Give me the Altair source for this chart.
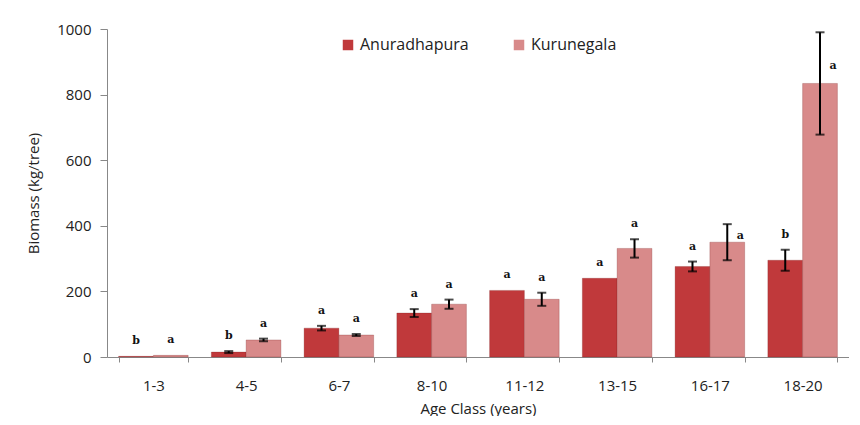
import altair as alt
import pandas as pd

age_classes = ["1-3", "4-5", "6-7", "8-10", "11-12", "13-15", "16-17", "18-20"]
sites = ["Anuradhapura", "Kurunegala"]
anu_values = [2, 15, 88, 134, 203, 240, 276, 295]
anu_errors = [0, 3, 7, 12, 0, 0, 15, 32]
anu_letters = ["b", "b", "a", "a", "a", "a", "a", "b"]
kur_values = [5, 52, 67, 161, 176, 331, 350, 834]
kur_errors = [0, 4, 3, 14, 20, 28, 55, 156]
kur_letters = ["a", "a", "a", "a", "a", "a", "a", "a"]
colors = ["#C0393B", "#D88A8A"]

rows = []
for i, a in enumerate(age_classes):
    rows.append(dict(age=a, site=sites[0], value=anu_values[i], err=anu_errors[i], letter=anu_letters[i]))
    rows.append(dict(age=a, site=sites[1], value=kur_values[i], err=kur_errors[i], letter=kur_letters[i]))
df = pd.DataFrame(rows)
df["lo"] = df["value"] - df["err"]
df["hi"] = df["value"] + df["err"]

FONT = "Open Sans"
TXT = "#222222"

x = alt.X("age:N", sort=age_classes, title="Age Class (years)",
          scale=alt.Scale(paddingInner=0.25, paddingOuter=0.125),
          axis=alt.Axis(labelAngle=0, tickBand="extent", domainColor="#888888", tickColor="#888888",
                        tickSize=5, labelFontSize=15, titleFontSize=15, labelPadding=16,
                        titlePadding=8, labelColor=TXT, titleColor=TXT,
                        labelFont=FONT, titleFont=FONT, titleFontWeight="normal"))
xo = alt.XOffset("site:N", sort=sites)

base = alt.Chart(df)

bars = base.mark_bar(stroke="#7a2020", strokeWidth=0.6, strokeOpacity=0.45).encode(
    x=x, xOffset=xo,
    y=alt.Y("value:Q", title="Biomass (kg/tree)",
            scale=alt.Scale(domain=[0, 1000]),
            axis=alt.Axis(values=[0, 200, 400, 600, 800, 1000], format="d", grid=False,
                          domainColor="#888888", tickColor="#888888", tickSize=7,
                          labelFontSize=15, titleFontSize=15, labelPadding=9, titlePadding=15,
                          labelColor=TXT, titleColor=TXT,
                          labelFont=FONT, titleFont=FONT, titleFontWeight="normal")),
    color=alt.Color("site:N", sort=sites, scale=alt.Scale(domain=sites, range=colors),
                    legend=alt.Legend(title=None, orient="none", legendX=233, legendY=8,
                                      direction="horizontal", symbolType="square", symbolSize=110,
                                      labelFontSize=16, labelFont=FONT, labelColor=TXT,
                                      columnPadding=42, symbolStrokeWidth=0))
)

eb = base.transform_filter("datum.err > 0")
rule = eb.mark_rule(color="black", strokeWidth=2).encode(x=x, xOffset=xo, y="lo:Q", y2="hi:Q")
cap_lo = eb.mark_tick(color="black", thickness=2, size=9).encode(x=x, xOffset=xo, y="lo:Q")
cap_hi = eb.mark_tick(color="black", thickness=2, size=9).encode(x=x, xOffset=xo, y="hi:Q")

letter_style = dict(font="DejaVu Serif", fontWeight="bold", fontSize=11, color="#111111")
letters_above = base.transform_filter("datum.err < 40").mark_text(
    dy=-10, baseline="bottom", **letter_style).encode(x=x, xOffset=xo, y="hi:Q", text="letter:N")
letters_side_r = base.transform_filter("datum.err >= 40").transform_calculate(
    ly="datum.value + datum.err * 0.35").mark_text(
    dx=13, baseline="middle", **letter_style).encode(x=x, xOffset=xo, y="ly:Q", text="letter:N")

chart = alt.layer(bars, rule, cap_lo, cap_hi, letters_above, letters_side_r).properties(
    width=742, height=328, padding={"left": 18, "top": 14, "right": 0, "bottom": 0}
).configure_view(stroke=None).configure_axis(grid=False)

chart.save("out.html", embed_options={"renderer": "svg", "actions": False})
